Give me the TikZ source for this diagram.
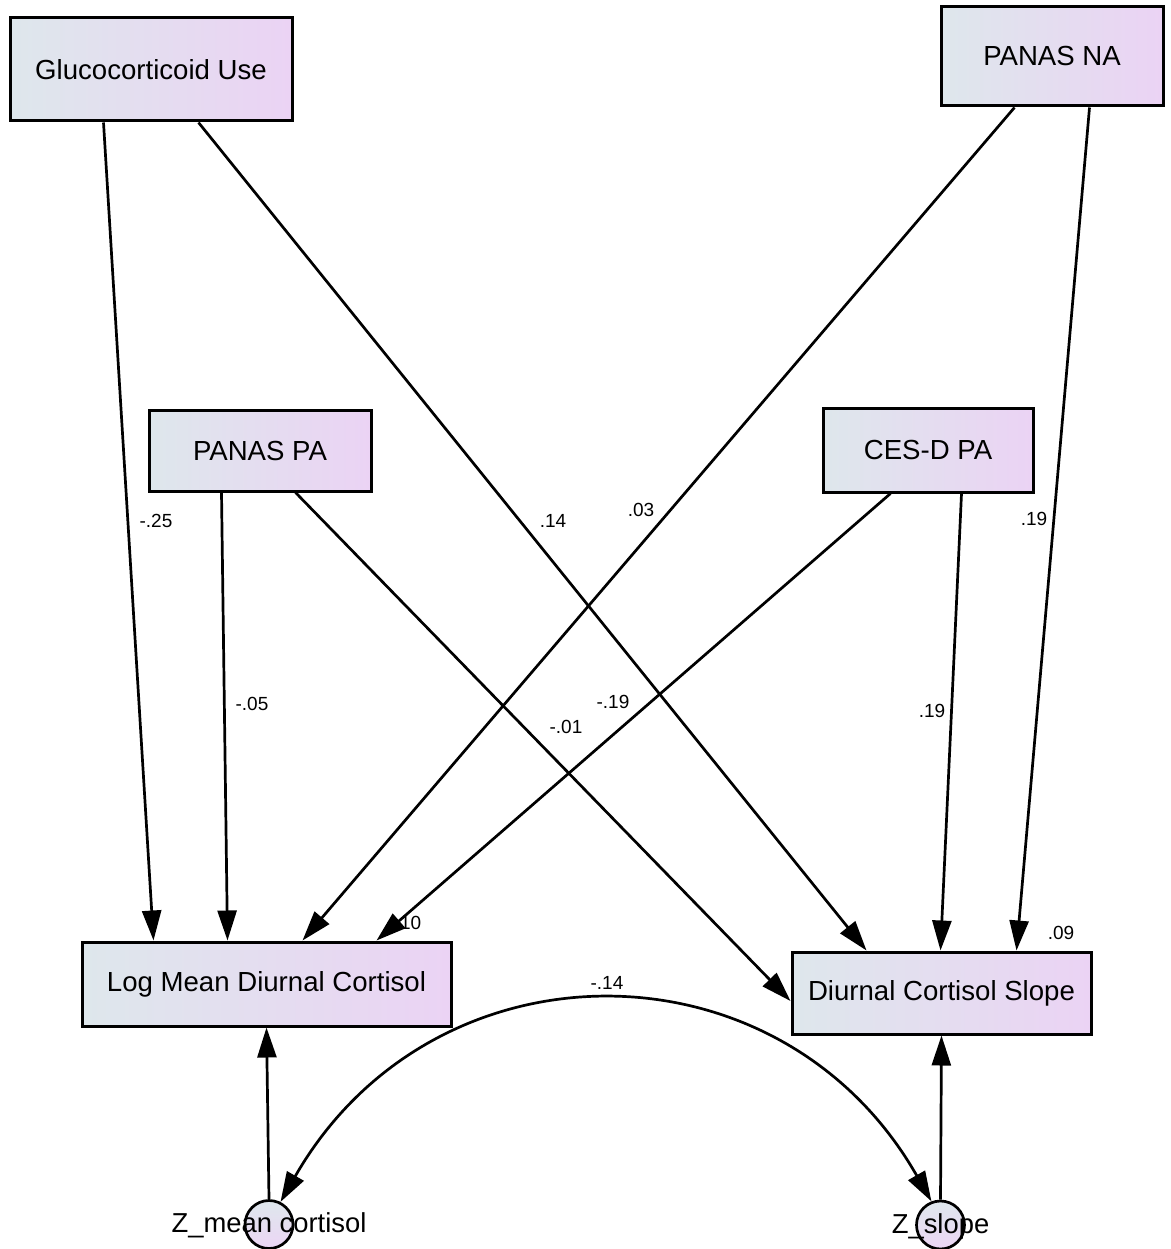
\documentclass[tikz,border=0pt]{standalone}
\usepackage{fontspec}
\setmainfont{Liberation Sans}
\usetikzlibrary{arrows.meta}
\definecolor{gl}{RGB}{222,231,236}
\definecolor{gr}{RGB}{235,211,244}
\definecolor{cb}{RGB}{236,214,245}
\begin{document}
\begin{tikzpicture}[x=1pt,y=-1pt,
 var/.style={draw=black,line width=3pt,left color=gl,right color=gr,font=\fontsize{27.6}{32}\selectfont,inner sep=0pt},
 err/.style={circle,draw=black,line width=2.7pt,top color=gl,bottom color=cb,minimum size=48pt,inner sep=0pt},
 reg/.style={line width=2.7pt,-{Triangle[length=30pt,width=19pt]}},
 cov/.style={line width=2.7pt,{Triangle[length=30pt,width=19pt]}-{Triangle[length=30pt,width=19pt]}},
 lbl/.style={font=\fontsize{19}{22}\selectfont,inner sep=0pt},
 elbl/.style={font=\fontsize{27.4}{32}\selectfont,inner sep=0pt}]
\useasboundingbox (0,0) rectangle (1170,1249);
% observed variables
\node[var,minimum width=282pt,minimum height=103pt] (gluco) at (151,69.5) {Glucocorticoid Use};
\node[var,minimum width=222pt,minimum height=99pt] (na) at (1052,56.5) {PANAS NA};
\node[var,minimum width=222pt,minimum height=81pt] (pa) at (260,450.5) {PANAS PA};
\node[var,minimum width=210pt,minimum height=84pt] (cesd) at (928,450) {CES-D PA};
\node[var,minimum width=369pt,minimum height=84pt] (logm) at (266.5,984) {Log Mean Diurnal Cortisol};
\node[var,minimum width=299pt,minimum height=82pt] (slope) at (941.5,993) {Diurnal Cortisol Slope};
% error terms
\node[err] (zm) at (269,1224.5) {};
\node[err] (zs) at (940.5,1225) {};
\node[elbl] (zmt) at (269,1225.5) {Z\_mean cortisol};
\node[elbl] (zst) at (940.5,1226) {Z\_slope};
% coefficient labels
\node[lbl] (l1) at (156,521) {-.25};
\node[lbl] (l2) at (553,521) {.14};
\node[lbl] (l3) at (641,510) {.03};
\node[lbl] (l4) at (1034,519) {.19};
\node[lbl] (l5) at (252,704) {-.05};
\node[lbl] (l6) at (566,727) {-.01};
\node[lbl] (l7) at (613,702) {-.19};
\node[lbl] (l8) at (932,711) {.19};
\node[lbl] (l9) at (607,983) {-.14};
\node[lbl] (r1) at (408,923) {.10};
\node[lbl] (r2) at (1061,933) {.09};
% regression paths
\draw[reg] ([xshift=95pt]gluco.south west) -- ([xshift=73pt]logm.north west);
\draw[reg] ([xshift=190pt]gluco.south west) -- ([xshift=76pt]slope.north west);
\draw[reg] ([xshift=75pt]na.south west) -- ([xshift=222pt]logm.north west);
\draw[reg] ([xshift=150pt]na.south west) -- ([xshift=226pt]slope.north west);
\draw[reg] ([xshift=74pt]pa.south west) -- ([xshift=147pt]logm.north west);
\draw[reg] ([xshift=148pt]pa.south west) -- ([yshift=-8pt]slope.west);
\draw[reg] ([xshift=69pt]cesd.south west) -- ([xshift=296pt]logm.north west);
\draw[reg] ([xshift=140pt]cesd.south west) -- ([xshift=150pt]slope.north west);
\draw[reg] (zm.north) -- (logm.south);
\draw[reg] (zs.north) -- (slope.south);
% covariance
\draw[cov] (zm.63) .. controls (433,936) and (780,936) .. (zs.111);
\end{tikzpicture}
\end{document}
